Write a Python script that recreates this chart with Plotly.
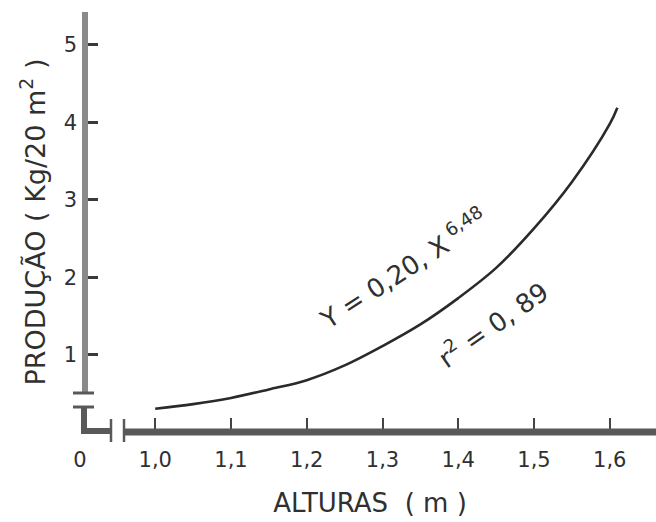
import plotly.graph_objects as go

# ---- data ----
alturas = [1.00, 1.05, 1.10, 1.15, 1.20, 1.25, 1.30, 1.35, 1.40, 1.45, 1.50, 1.55, 1.60, 1.61]
producao = [0.30, 0.36, 0.44, 0.55, 0.67, 0.86, 1.11, 1.39, 1.73, 2.12, 2.63, 3.23, 3.98, 4.19]
x_tickvals = [1.0, 1.1, 1.2, 1.3, 1.4, 1.5, 1.6]
x_ticktext = ["1,0", "1,1", "1,2", "1,3", "1,4", "1,5", "1,6"]
x0_tickvals = [0]
x0_ticktext = ["0"]
y_tickvals = [1, 2, 3, 4, 5]
y_ticktext = ["1", "2", "3", "4", "5"]

# ---- geometry ----
W, H = 656, 522
L, R, T, B = 84, 0, 12, 90
PW, PH = W - L - R, H - T - B
X_RANGE = [0.906, 1.661]
Y_RANGE = [0, 5.426]

def px(xp):
    return (xp - L) / PW

def py(yp):
    return (H - B - yp) / PH

FONT = "DejaVu Sans"
TXT = "#303030"
AX_DARK = "#595959"
AX_LIGHT = "#8a8a8a"

fig = go.Figure()
fig.add_trace(go.Scatter(
    x=alturas, y=producao, mode="lines",
    line=dict(color="#2a2a2a", width=2.6, shape="spline"),
    showlegend=False, hoverinfo="x+y",
))
# empty trace so that the short origin axis segment (x2/y2) is drawn
fig.add_trace(go.Scatter(x=[], y=[], xaxis="x2", yaxis="y2",
                         mode="lines", showlegend=False, hoverinfo="skip"))

shapes = []
def seg(x0, y0, x1, y1, w, c, layer="above"):
    shapes.append(dict(type="line", xref="paper", yref="paper",
                       x0=px(x0), y0=py(y0), x1=px(x1), y1=py(y1),
                       line=dict(color=c, width=w), layer=layer))

# broken y axis
seg(85, 393, 85, 12, 6, AX_LIGHT)
seg(73, 393, 94, 393, 3, AX_DARK)
seg(73, 407, 94, 407, 3, AX_DARK)
seg(84, 406, 84, 434, 6, AX_DARK)
seg(82, 431, 111, 431, 6, AX_DARK)
# break bars
seg(111, 419, 111, 442, 2.5, AX_DARK)
seg(124, 419, 124, 442, 2.5, AX_DARK)
# x axis line
seg(124, 432, 656, 432, 7, AX_DARK)

fig.update_layout(
    width=W, height=H,
    margin=dict(l=L, r=R, t=T, b=B),
    paper_bgcolor="white", plot_bgcolor="rgba(0,0,0,0)",
    font=dict(family=FONT, color=TXT),
    shapes=shapes,
    xaxis=dict(
        range=X_RANGE, domain=[0, 1], anchor="y",
        tickvals=x_tickvals, ticktext=x_ticktext,
        ticks="inside", ticklen=14, tickwidth=2, tickcolor="#444",
        showgrid=False, zeroline=False, showline=False,
        tickfont=dict(size=21, color=TXT, family=FONT),
        ticklabelstandoff=13,
        title=dict(text="ALTURAS  ( m )", font=dict(size=26, color=TXT, family=FONT), standoff=22),
    ),
    xaxis2=dict(
        range=[0, 1], domain=[0, 28 / PW], anchor="y2",
        tickvals=x0_tickvals, ticktext=x0_ticktext, ticks="",
        showgrid=False, zeroline=False, showline=False,
        tickfont=dict(size=21, color=TXT, family=FONT),
        ticklabelstandoff=13, ticklabelshift=-4,
    ),
    yaxis2=dict(
        range=[0, 1], domain=[0, 1], anchor="x2", visible=False,
    ),
    yaxis=dict(
        range=Y_RANGE, anchor="x",
        tickvals=y_tickvals, ticktext=y_ticktext,
        ticks="inside", ticklen=14, tickwidth=2.5, tickcolor="#3a3a3a",
        showgrid=False, zeroline=False, showline=False,
        tickfont=dict(size=21, color=TXT, family=FONT),
        ticklabelstandoff=6,
        title=dict(text="PRODUÇÃO ( Kg/20 m<sup>2</sup> )", font=dict(size=27, color=TXT, family=FONT), standoff=10),
    ),
    annotations=[
        dict(text="Y = 0,20, X<sup> 6,48</sup>", xref="paper", yref="paper",
             x=px(403), y=py(268), xanchor="center", yanchor="middle",
             textangle=-33, showarrow=False,
             font=dict(size=26, color=TXT, family=FONT)),
        dict(text="r<sup>2</sup> = 0, 89", xref="paper", yref="paper",
             x=px(492), y=py(324), xanchor="center", yanchor="middle",
             textangle=-35, showarrow=False,
             font=dict(size=26, color=TXT, family=FONT)),
    ],
)

fig.write_html("out.html")
